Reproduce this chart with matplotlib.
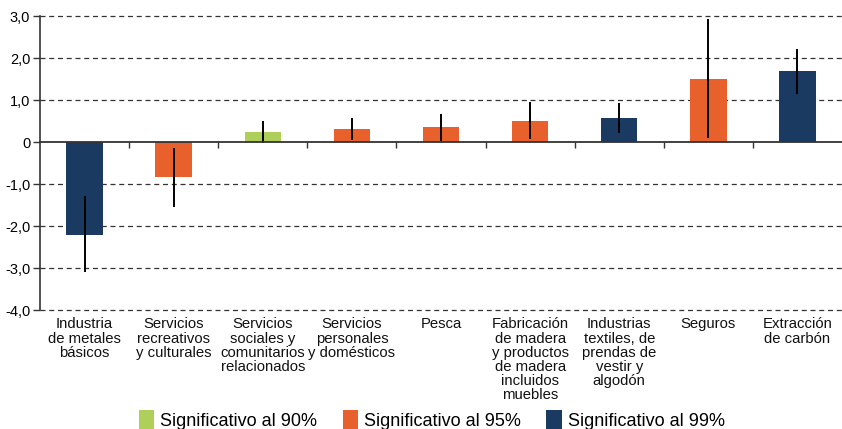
import numpy as np
import matplotlib
matplotlib.use('Agg')
from matplotlib import pyplot as plt
from matplotlib.patches import Patch
from matplotlib import transforms

plt.rcParams['font.family'] = ['Liberation Sans', 'DejaVu Sans']

# data
categories = ['Industria\nde metales\nbásicos',
              'Servicios\nrecreativos\ny culturales',
              'Servicios\nsociales y\ncomunitarios\nrelacionados',
              'Servicios\npersonales\ny domésticos',
              'Pesca',
              'Fabricación\nde madera\ny productos\nde madera\nincluidos\nmuebles',
              'Industrias\ntextiles, de\nprendas de\nvestir y\nalgodón',
              'Seguros',
              'Extracción\nde carbón']
values = [-2.22, -0.84, 0.23, 0.32, 0.35, 0.50, 0.56, 1.50, 1.68]
err_low = [-3.10, -1.54, -0.02, 0.05, 0.00, 0.08, 0.22, 0.10, 1.14]
err_high = [-1.29, -0.15, 0.50, 0.58, 0.67, 0.95, 0.92, 2.92, 2.22]
signif = [99, 95, 90, 95, 95, 95, 99, 95, 99]

colors = {90: '#AECF5A', 95: '#E8612C', 99: '#1B3A61'}
legend_labels = {90: 'Significativo al 90%', 95: 'Significativo al 95%', 99: 'Significativo al 99%'}

fig = plt.figure(figsize=(8.42, 4.29), dpi=100)
ax = fig.add_axes([40/842, 1-310/429, 1-40/842, (310-16)/429])

x = np.arange(len(categories))
ax.bar(x, values, width=0.41, color=[colors[s] for s in signif], zorder=3)
ax.vlines(x, err_low, err_high, color='black', linewidth=1.4, zorder=4)

ax.set_xlim(-0.5, len(categories) - 0.5)
ax.set_ylim(-4, 3)
yt = np.arange(-4, 4)
ax.set_yticks(yt)
ax.set_yticklabels(['0' if v == 0 else ('%.1f' % v).replace('.', ',') for v in yt], fontsize=10.5)
ax.tick_params(axis='y', direction='out', length=5, width=1, color='#333333', pad=2)

# grid
for v in yt:
    if v != 0:
        ax.axhline(v, color='#333333', linestyle=(0, (4, 3)), linewidth=0.9, zorder=1, clip_on=False)

for s in ['top', 'right']:
    ax.spines[s].set_visible(False)
ax.spines['left'].set_color('#333333')
ax.spines['left'].set_linewidth(1.2)
ax.spines['bottom'].set_position(('data', 0))
ax.spines['bottom'].set_color('#333333')
ax.spines['bottom'].set_linewidth(1.3)
ax.spines['bottom'].set_zorder(5)
ax.set_xticks(np.arange(0.5, len(categories) - 1, 1))
ax.set_xticklabels([])
ax.tick_params(axis='x', direction='out', length=4, width=1, color='#333333')

trans = transforms.blended_transform_factory(ax.transData, ax.transAxes)
for i, lab in enumerate(categories):
    ax.text(i, -0.025, lab, transform=trans, ha='center', va='top',
            fontsize=10.7, linespacing=1.02, color='#111111')

handles = [Patch(facecolor=colors[k], label=legend_labels[k]) for k in [90, 95, 99]]
fig.legend(handles=handles, loc='lower center', bbox_to_anchor=(0.513, -0.04), ncol=3,
           frameon=False, fontsize=13.0, handlelength=0.85, handleheight=1.3,
           handletextpad=0.35, columnspacing=1.4)

fig.savefig('out.png', dpi=100)
